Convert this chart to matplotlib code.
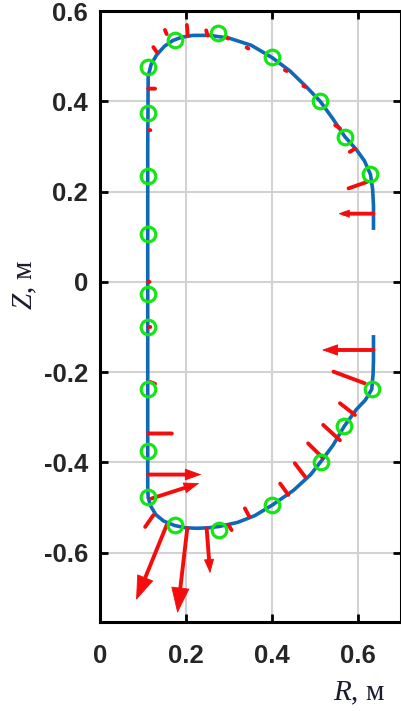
import matplotlib
matplotlib.use('Agg')
import matplotlib.pyplot as plt
import numpy as np

plt.rcParams['mathtext.fontset'] = 'custom'
plt.rcParams['mathtext.it'] = 'Liberation Serif:italic'
plt.rcParams['mathtext.rm'] = 'Liberation Serif'

# ---- plasma boundary contour (R, Z in metres) ----
contour_R = [0.636, 0.636, 0.634, 0.629, 0.615, 0.597, 0.570, 0.541, 0.512, 0.480, 0.442,
             0.400, 0.352, 0.300, 0.255, 0.216, 0.190, 0.170, 0.150, 0.132, 0.119, 0.112,
             0.111, 0.111, 0.111, 0.112, 0.118, 0.130, 0.148, 0.174, 0.200, 0.225, 0.252,
             0.277, 0.320, 0.360, 0.400, 0.450, 0.490, 0.513, 0.542, 0.568, 0.596, 0.617,
             0.632, 0.635, 0.636, 0.636]
contour_Z = [0.115, 0.170, 0.205, 0.238, 0.268, 0.292, 0.321, 0.362, 0.400, 0.432, 0.467,
             0.497, 0.524, 0.540, 0.546, 0.546, 0.542, 0.535, 0.522, 0.503, 0.482, 0.455,
             0.300, -0.300, -0.455, -0.478, -0.497, -0.516, -0.530, -0.540, -0.545, -0.546,
             -0.545, -0.542, -0.533, -0.518, -0.495, -0.462, -0.427, -0.399, -0.362, -0.320,
             -0.283, -0.262, -0.238, -0.205, -0.175, -0.118]

# ---- measurement points (green circles) ----
circle_R = [0.629, 0.570, 0.512, 0.400, 0.275, 0.175, 0.111, 0.111, 0.111, 0.111, 0.111,
            0.111, 0.111, 0.111, 0.112, 0.174, 0.277, 0.400, 0.513, 0.568, 0.632]
circle_Z = [0.238, 0.321, 0.400, 0.498, 0.551, 0.535, 0.476, 0.374, 0.234, 0.105, -0.026,
            -0.101, -0.238, -0.374, -0.476, -0.539, -0.550, -0.495, -0.399, -0.320, -0.238]

# ---- force vectors (red arrows): base point and components ----
arrow_R0 = [0.636, 0.620, 0.593, 0.558, 0.477, 0.434, 0.345, 0.298, 0.250, 0.204, 0.155,
            0.132, 0.112, 0.113, 0.112, 0.113, 0.117, 0.112, 0.112, 0.120, 0.124, 0.155,
            0.203, 0.248, 0.299, 0.347, 0.438, 0.477, 0.516, 0.558, 0.593, 0.616, 0.636]
arrow_Z0 = [0.151, 0.221, 0.295, 0.340, 0.432, 0.467, 0.517, 0.539, 0.546, 0.546, 0.549,
            0.509, 0.428, 0.336, 0.000, -0.100, -0.222, -0.336, -0.427, -0.480, -0.517, -0.539,
            -0.546, -0.546, -0.539, -0.520, -0.472, -0.432, -0.388, -0.351, -0.295, -0.225, -0.151]
arrow_dR = [-0.082, -0.042, -0.012, -0.011, -0.004, -0.004, -0.004, -0.003, -0.003, -0.002, -0.004,
            -0.008, 0.016, 0.004, 0.003, 0.004, 0.011, 0.055, 0.124, 0.111, -0.019, -0.071,
            -0.023, 0.008, 0.007, -0.010, -0.019, -0.024, -0.032, -0.039, -0.035, -0.073, -0.120]
arrow_dZ = [0.000, -0.014, -0.007, 0.007, 0.002, 0.002, 0.002, 0.003, 0.011, 0.023, 0.009,
            0.011, 0.000, 0.000, 0.000, 0.000, -0.004, 0.000, 0.000, 0.034, -0.026, -0.166,
            -0.188, -0.100, -0.011, 0.018, 0.025, 0.030, 0.030, 0.034, 0.026, 0.026, 0.000]

x_ticks = [0, 0.2, 0.4, 0.6]
x_tick_labels = ['0', '0.2', '0.4', '0.6']
y_ticks = [-0.6, -0.4, -0.2, 0, 0.2, 0.4, 0.6]
y_tick_labels = ['-0.6', '-0.4', '-0.2', '0', '0.2', '0.4', '0.6']

RED = '#f50d0d'

fig = plt.figure(figsize=(4.01, 7.11), dpi=100)
ax = fig.add_axes([0.2494, 0.1256, 0.7506, 0.8589])
ax.set_xlim(0, 0.7)
ax.set_ylim(-0.753, 0.6)

ax.grid(True, color='#d2d2d2', lw=1.5)
ax.set_axisbelow(True)

ax.plot(contour_R, contour_Z, color='#1068b8', lw=2.6, zorder=3,
        solid_joinstyle='round', solid_capstyle='butt')

for r0, z0, dr, dz in zip(arrow_R0, arrow_Z0, arrow_dR, arrow_dZ):
    p0 = ax.transData.transform((r0, z0))
    p1 = ax.transData.transform((r0 + dr, z0 + dz))
    Lpx = np.hypot(*(p1 - p0))
    L = Lpx * 72.0 / fig.dpi
    has_head = Lpx > 34.5
    hl = 0.28 * L
    hw = 0.10 * L
    frac = 1.0 - 0.55 * hl / L if has_head else 1.0
    ax.annotate('', xy=(r0 + dr * frac, z0 + dz * frac), xytext=(r0, z0),
                arrowprops=dict(arrowstyle='-', color=RED, lw=2.8,
                                shrinkA=0, shrinkB=0),
                zorder=4)
    if has_head:
        ax.annotate('', xy=(r0 + dr, z0 + dz), xytext=(r0, z0),
                    arrowprops=dict(arrowstyle=f'-|>,head_length={hl:.3f},head_width={hw:.3f}',
                                    color=RED, lw=0.6, shrinkA=0, shrinkB=0,
                                    mutation_scale=1),
                    zorder=4)

ax.plot(circle_R, circle_Z, 'o', mfc='none', mec='#14e614', ms=10.5, mew=2.3, zorder=5)

ax.set_xticks(x_ticks, labels=x_tick_labels, fontsize=18.5, fontweight='bold',
              fontfamily='Liberation Sans', color='#262626')
ax.set_yticks(y_ticks, labels=y_tick_labels, fontsize=18.5, fontweight='bold',
              fontfamily='Liberation Sans', color='#262626')
ax.tick_params(direction='in', length=6, width=2, top=True, right=True, color='black')
ax.tick_params(axis='x', pad=16)
ax.tick_params(axis='y', pad=8.5)
for s in ax.spines.values():
    s.set_linewidth(2.2)
    s.set_color('black')

fig.text(25 / 401, 1 - 285 / 711, '$Z$, м', rotation=90, ha='center', va='center',
         fontsize=21, fontfamily='Liberation Serif', color='#1c1c30')
fig.text(359 / 401, 1 - 693 / 711, '$R$, м', ha='center', va='center',
         fontsize=21, fontfamily='Liberation Serif', color='#1c1c30')

fig.savefig('out.png', dpi=100)
